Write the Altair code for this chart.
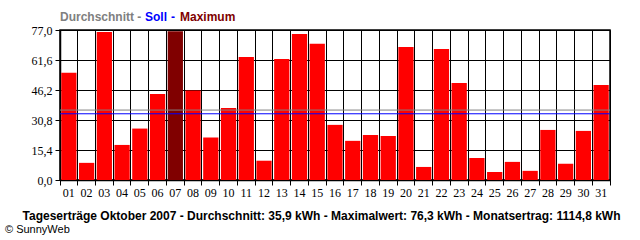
import altair as alt
import pandas as pd

days = [f"{i:02d}" for i in range(1, 32)]
kwh = [55.1, 8.8, 76.0, 18.0, 26.4, 44.2, 76.3, 45.9, 21.8, 37.0,
       63.1, 9.9, 62.1, 75.0, 69.9, 28.3, 20.1, 23.1, 22.6, 68.3,
       6.7, 67.3, 49.8, 11.3, 4.1, 9.3, 4.7, 25.7, 8.3, 25.2, 48.8]
max_day = "07"
avg_value = [35.9]
soll_value = [34.0]
y_ticks = [0, 15.4, 30.8, 46.2, 61.6, 77.0]

header_parts = ["Durchschnitt -", "Soll", "-", "Maximum"]
caption = ["Tageserträge Oktober 2007 - Durchschnitt: 35,9 kWh - Maximalwert: 76,3 kWh - Monatsertrag: 1114,8 kWh"]
copyright_txt = ["© SunnyWeb"]

df = pd.DataFrame({"day": days, "kwh": kwh})
df["is_max"] = df["day"] == max_day

W, H = 550, 150
LABEL_FONT = "Liberation Sans Narrow"
TEXT_FONT = "Liberation Sans"

x_enc = alt.X(
    "day:O",
    scale=alt.Scale(paddingInner=0, paddingOuter=0),
    axis=alt.Axis(
        title=None, labelAngle=0, bandPosition=1, tickExtra=True,
        grid=True, gridColor="black", gridOpacity=1,
        tickSize=5, tickColor="black", domainColor="black", domainWidth=1.5,
        labelFont=LABEL_FONT, labelFontSize=12, labelColor="black", labelPadding=2,
        labelOverlap=False,
    ),
)
y_scale = alt.Scale(domain=[0, 77], nice=False, zero=True)
y_axis = alt.Axis(
    title=None, values=y_ticks, tickCount=len(y_ticks),
    labelExpr="replace(format(datum.value, '.1f'), '.', ',')",
    grid=True, gridColor="black", gridOpacity=1,
    tickSize=5, tickColor="black", domainColor="black", domainWidth=1.5,
    labelFont=LABEL_FONT, labelFontSize=12, labelColor="black", labelPadding=3,
    labelOverlap=False,
)

bars = alt.Chart(df).mark_bar(width=alt.RelativeBandSize(0.86)).encode(
    x=x_enc,
    y=alt.Y("kwh:Q", scale=y_scale, axis=y_axis),
    color=alt.Color("is_max:N", scale=alt.Scale(domain=[False, True], range=["#ff0000", "#800000"]), legend=None),
)

avg_rule = alt.Chart(pd.DataFrame({"kwh": avg_value})).mark_rule(color="#808080", strokeWidth=1).encode(
    y=alt.Y("kwh:Q", scale=y_scale, axis=y_axis)
)
soll_rule = alt.Chart(pd.DataFrame({"kwh": soll_value})).mark_rule(color="#0000ff", strokeWidth=1).encode(
    y=alt.Y("kwh:Q", scale=y_scale, axis=y_axis)
)


def text_layer(txt, color, x, y, size, bold, align="left"):
    return alt.Chart(pd.DataFrame({"t": [txt]})).mark_text(
        font=TEXT_FONT, fontSize=size, fontWeight="bold" if bold else "normal",
        color=color, align=align, baseline="middle",
    ).encode(text="t:N", x=alt.value(x), y=alt.value(y))


header = [
    text_layer(header_parts[0], "#808080", 0, -13, 12, True),
    text_layer(header_parts[1], "#0000ff", 85, -13, 12, True),
    text_layer(header_parts[2], "#0000ff", 111, -13, 12, True),
    text_layer(header_parts[3], "#800000", 120, -13, 12, True),
]
cap = text_layer(caption[0], "black", 261.5, 186, 12, True, align="center")
copy = text_layer(copyright_txt[0], "black", -55, 200, 11, False)

chart = alt.layer(bars, avg_rule, soll_rule, *header, cap, copy).properties(
    width=W, height=H,
    autosize=alt.AutoSizeParams(type="none"),
    padding={"left": 60, "top": 30, "right": 30, "bottom": 60},
    background="white",
).configure_view(stroke="black", strokeWidth=1.5)

chart.save("out.html", embed_options={"renderer": "svg", "actions": False})
